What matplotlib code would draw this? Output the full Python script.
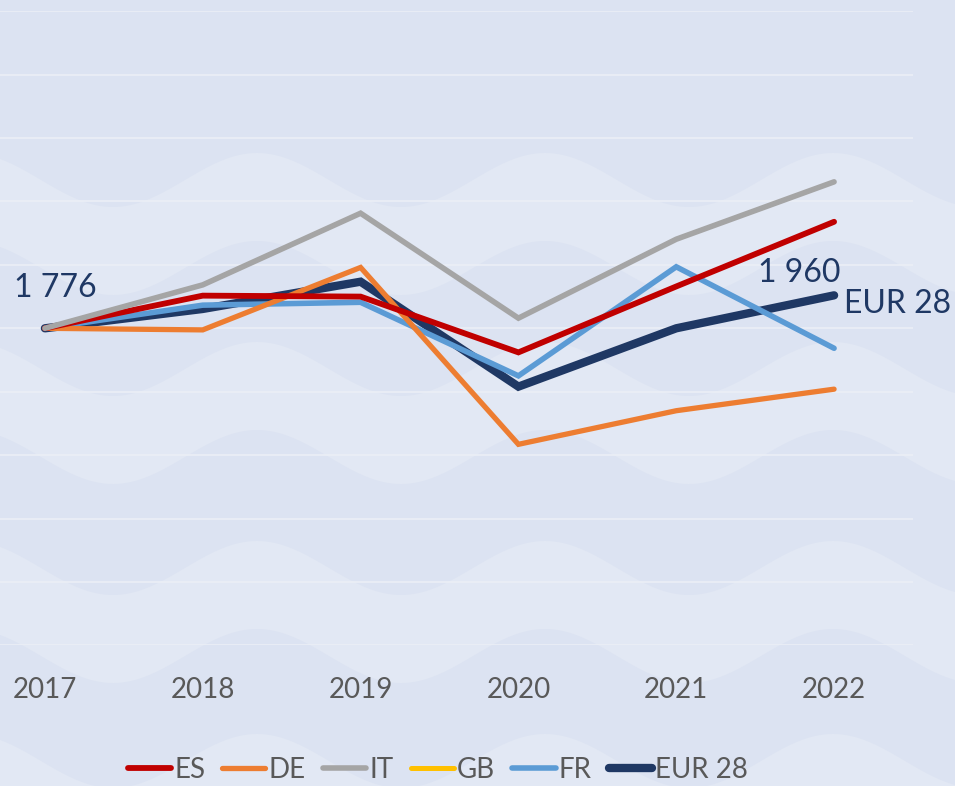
import numpy as np
import matplotlib
matplotlib.use("Agg")
import matplotlib.pyplot as plt

# ---------------- data (index, 2017 = 100) ----------------
years = ["2017", "2018", "2019", "2020", "2021", "2022"]
es = [100, 110.3, 110.0, 92.4, 113.2, 133.6]
de = [100, 99.5, 119.2, 63.4, 74.0, 80.8]
it = [100, 113.7, 136.3, 103.2, 128.1, 146.2]
gb = [np.nan, np.nan, np.nan, np.nan, np.nan, np.nan]
fr = [100, 107.3, 108.2, 85.0, 119.4, 93.7]
eur28 = [100, 106.1, 114.7, 81.6, 100.0, 110.4]
eur28_start_label = "1 776"
eur28_end_label = "1 960"
eur28_name = "EUR 28"

plt.rcParams["font.family"] = ["Lato", "DejaVu Sans"]

W, H = 955, 786
fig = plt.figure(figsize=(W / 100, H / 100), dpi=100)
BG = "#DCE3F2"
LIGHT = "#E2E8F4"
fig.patch.set_facecolor(BG)

# ---------------- decorative wavy background ----------------
bg = fig.add_axes([0, 0, 1, 1], zorder=0)
bg.set_xlim(0, W)
bg.set_ylim(H, 0)
bg.axis("off")
xs = np.linspace(0, W, 600)
A, P, X0 = 27, 288, 257
wave = A * (1 - np.cos(2 * np.pi * (xs - X0) / P))
for yc in [153, 342, 541, 734]:
    bg.fill_between(xs, yc + wave, yc + 88 + wave, color=LIGHT, lw=0)

# ---------------- main axes ----------------
left_px, right_px, top_px, bot_px = -34, 913, 11.3, 645.3
ax = fig.add_axes([left_px / W, 1 - bot_px / H, (right_px - left_px) / W, (bot_px - top_px) / H], zorder=1)
ax.patch.set_alpha(0)
x = np.arange(len(years))

series = [
    ("ES", es, "#C00000", 4.2, 5),
    ("DE", de, "#ED7D31", 3.8, 4),
    ("IT", it, "#A5A5A5", 4.0, 6),
    ("GB", gb, "#FFC000", 3.6, 3),
    ("FR", fr, "#5B9BD5", 4.0, 2),
    (eur28_name, eur28, "#1F3864", 6.0, 1),
]
for name, vals, col, lw, z in series:
    ax.plot(x, vals, color=col, lw=lw, label=name, zorder=z + 2,
            solid_capstyle="round", solid_joinstyle="miter")

ax.set_xlim(-0.5, len(years) - 0.5)
ax.set_ylim(0, 200)
ax.set_yticks(np.arange(0, 201, 20))
ax.yaxis.grid(True, color="#EAEEF6", lw=1.3, zorder=0)
ax.set_axisbelow(True)
ax.tick_params(axis="y", left=False, labelleft=False)
ax.set_xticks(x)
ax.set_xticklabels(years)
ax.tick_params(axis="x", bottom=False, labelsize=20, labelcolor="#595959", pad=19)
for s in ax.spines.values():
    s.set_visible(False)

# ---------------- annotations ----------------
navy = "#1F3864"
ax.annotate(eur28_start_label, (x[0], eur28[0]), xytext=(-22.3, 22.3), textcoords="offset points",
            ha="left", va="baseline", fontsize=23, color=navy, zorder=20)
ax.annotate(eur28_end_label, (x[-1], eur28[-1]), xytext=(-54.9, 9.6), textcoords="offset points",
            ha="left", va="baseline", fontsize=23, color=navy, zorder=20)
ax.annotate(eur28_name, (x[-1], eur28[-1]), xytext=(7.0, -12.7), textcoords="offset points",
            ha="left", va="baseline", fontsize=23, color=navy, zorder=20)

# ---------------- legend ----------------
leg = fig.legend(loc="center", bbox_to_anchor=(438 / W, 1 - 770 / H), ncol=6, frameon=False,
                 fontsize=20, handlelength=1.55, handletextpad=0.12, columnspacing=0.62,
                 borderpad=0, borderaxespad=0)
for t in leg.get_texts():
    t.set_color("#595959")
for h in leg.get_lines():
    h.set_solid_capstyle("round")

fig.savefig("out.png", dpi=100, facecolor=fig.get_facecolor())
